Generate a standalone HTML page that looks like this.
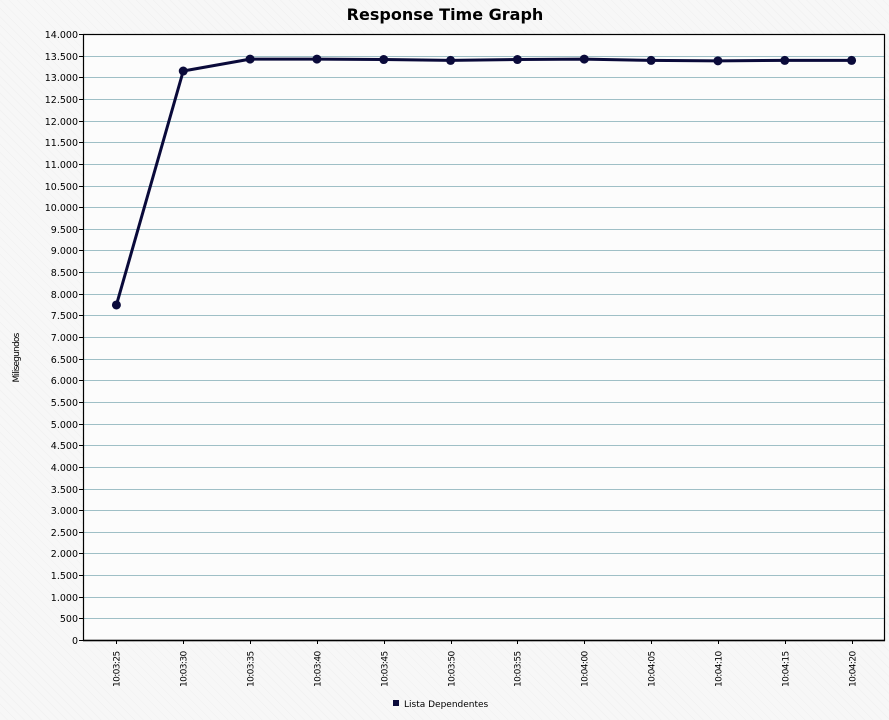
<!DOCTYPE html>
<html><head><meta charset="utf-8"><style>
body{margin:0;background:#f6f6f6;}
svg{display:block;font-family:"DejaVu Sans","Liberation Sans",sans-serif;}
</style></head><body>
<svg id="c" width="889" height="720">
<defs><pattern id="hatch" width="6" height="6" patternUnits="userSpaceOnUse" patternTransform="rotate(-45)"><rect width="6" height="6" fill="#f7f7f7"/><line x1="0" y1="0" x2="0" y2="6" stroke="#efefef" stroke-width="1"/></pattern></defs>
<rect width="889" height="720" fill="url(#hatch)"/>
<text x="445" y="20" text-anchor="middle" font-size="16" font-weight="bold" fill="#000">Response Time Graph</text>
<text transform="translate(19,358) rotate(-90)" text-anchor="middle" font-size="9" fill="#000" letter-spacing="-0.8">Milisegundos</text>
<g id="plot"></g>
<rect x="393" y="700" width="6" height="6" fill="#0a0a3a"/>
<text x="404" y="707" font-size="9" fill="#000">Lista Dependentes</text>
</svg>
<script>
const categories=["10:03:25","10:03:30","10:03:35","10:03:40","10:03:45","10:03:50","10:03:55","10:04:00","10:04:05","10:04:10","10:04:15","10:04:20"];
const values=[7740,13145,13420,13420,13410,13390,13410,13420,13390,13380,13390,13390];
const yTicks=[0,500,1000,1500,2000,2500,3000,3500,4000,4500,5000,5500,6000,6500,7000,7500,8000,8500,9000,9500,10000,10500,11000,11500,12000,12500,13000,13500,14000];
const L=83,R=885,T=34,B=640,YMAX=14000;
const ns="http://www.w3.org/2000/svg";
const g=document.getElementById('plot');
function el(t,a){const e=document.createElementNS(ns,t);for(const k in a)e.setAttribute(k,a[k]);g.appendChild(e);return e;}
function y(v){return B-(v/YMAX)*(B-T);}
function x(i){const bw=(R-L)/categories.length;return L+bw*(i+0.5);}
const bg=el('rect',{x:L,y:T,width:R-L,height:B-T,fill:'#fcfcfc'});


yTicks.forEach(v=>{
  const yy=Math.round(y(v))+0.5;
  if(v>0&&v<YMAX){const gl=el('line',{x1:L,x2:R,y1:yy,y2:yy,stroke:'#9fbfc6','stroke-width':1});
  
  }
  el('line',{x1:L-4,x2:L,y1:yy,y2:yy,stroke:'#000'});
  const t=el('text',{x:L-5,y:yy+3.5,'text-anchor':'end','font-size':'9.5',fill:'#000'});
  t.textContent=v===0?'0':v.toLocaleString('de-DE',{minimumFractionDigits:0}).replace(/(\d)\.(\d{3})$/,'$1.$2');
  
  
});
const frame=el('rect',{x:L+0.5,y:T+0.5,width:R-L-1,height:B-T,fill:'none',stroke:'#000','stroke-width':1.2});


el('line',{x1:L,x2:R,y1:B+0.5,y2:B+0.5,stroke:'#000','stroke-width':1.5});
categories.forEach((c,i)=>{
  const xx=Math.round(x(i))+0.5;
  el('line',{x1:xx,x2:xx,y1:B,y2:B+4,stroke:'#000'});
  const t=el('text',{transform:`translate(${xx+3},${B+47}) rotate(-90)`,'font-size':'9',fill:'#000','letter-spacing':'-0.6'});
  t.textContent=c;
  
  
});
const line=el('polyline',{points:values.map((v,i)=>x(i)+','+y(v)).join(' '),fill:'none',stroke:'#0a0a3a','stroke-width':3,'stroke-linejoin':'round'});


values.forEach((v,i)=>{
  const p=el('circle',{cx:x(i),cy:y(v),r:4.5,fill:'#0a0a3a'});
  
  
});
</script>
</body></html>
